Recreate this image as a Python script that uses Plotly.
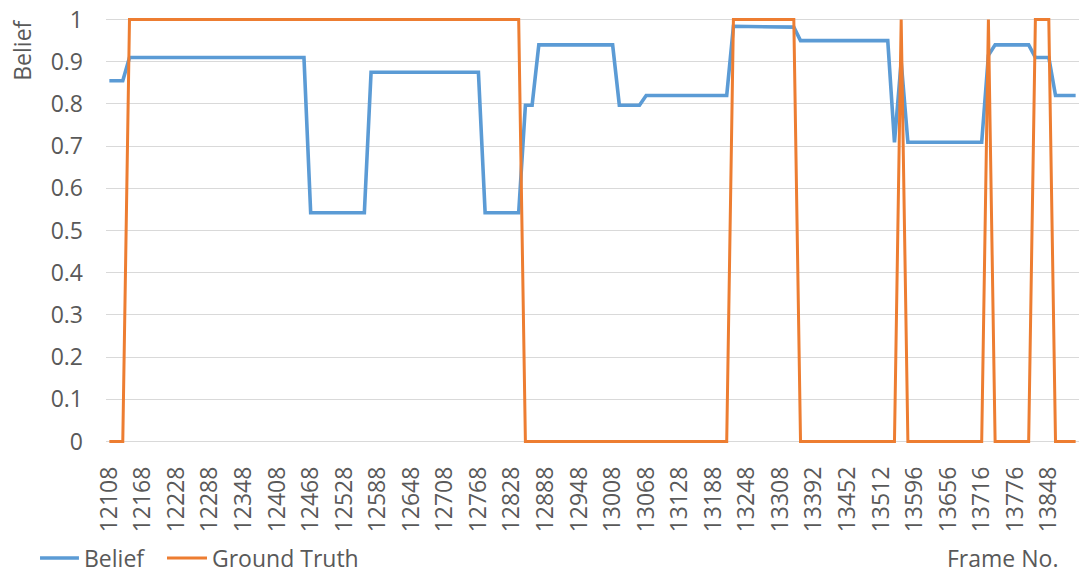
import plotly.graph_objects as go

# Frame numbers (one category per sampled frame)
frames = [
    12108, 12120, 12132, 12144, 12156, 12168, 12180, 12192, 12204, 12216,
    12228, 12240, 12252, 12264, 12276, 12288, 12300, 12312, 12324, 12336,
    12348, 12360, 12372, 12384, 12396, 12408, 12420, 12432, 12444, 12456,
    12468, 12480, 12492, 12504, 12516, 12528, 12540, 12552, 12564, 12576,
    12588, 12600, 12612, 12624, 12636, 12648, 12660, 12672, 12684, 12696,
    12708, 12720, 12732, 12744, 12756, 12768, 12780, 12792, 12804, 12816,
    12828, 12840, 12852, 12864, 12876, 12888, 12900, 12912, 12924, 12936,
    12948, 12960, 12972, 12984, 12996, 13008, 13020, 13032, 13044, 13056,
    13068, 13080, 13092, 13104, 13116, 13128, 13140, 13152, 13164, 13176,
    13188, 13200, 13212, 13224, 13236, 13248, 13260, 13272, 13284, 13296,
    13308, 13320, 13332, 13356, 13368, 13392, 13404, 13416, 13428, 13440,
    13452, 13464, 13476, 13488, 13500, 13512, 13524, 13536, 13560, 13572,
    13596, 13608, 13620, 13632, 13644, 13656, 13668, 13680, 13692, 13704,
    13716, 13728, 13740, 13752, 13764, 13776, 13788, 13800, 13812, 13836,
    13848, 13860, 13872, 13884, 13896,
]

belief = [
    0.855, 0.855, 0.855, 0.91, 0.91, 0.91, 0.91, 0.91, 0.91, 0.91,
    0.91, 0.91, 0.91, 0.91, 0.91, 0.91, 0.91, 0.91, 0.91, 0.91,
    0.91, 0.91, 0.91, 0.91, 0.91, 0.91, 0.91, 0.91, 0.91, 0.91,
    0.542, 0.542, 0.542, 0.542, 0.542, 0.542, 0.542, 0.542, 0.542, 0.875,
    0.875, 0.875, 0.875, 0.875, 0.875, 0.875, 0.875, 0.875, 0.875, 0.875,
    0.875, 0.875, 0.875, 0.875, 0.875, 0.875, 0.542, 0.542, 0.542, 0.542,
    0.542, 0.542, 0.797, 0.797, 0.94, 0.94, 0.94, 0.94, 0.94, 0.94,
    0.94, 0.94, 0.94, 0.94, 0.94, 0.94, 0.797, 0.797, 0.797, 0.797,
    0.82, 0.82, 0.82, 0.82, 0.82, 0.82, 0.82, 0.82, 0.82, 0.82,
    0.82, 0.82, 0.82, 0.984, 0.984, 0.984, 0.983, 0.983, 0.983, 0.983,
    0.982, 0.982, 0.982, 0.95, 0.95, 0.95, 0.95, 0.95, 0.95, 0.95,
    0.95, 0.95, 0.95, 0.95, 0.95, 0.95, 0.95, 0.709, 0.9, 0.709,
    0.709, 0.709, 0.709, 0.709, 0.709, 0.709, 0.709, 0.709, 0.709, 0.709,
    0.709, 0.915, 0.94, 0.94, 0.94, 0.94, 0.94, 0.94, 0.91, 0.91,
    0.91, 0.82, 0.82, 0.82, 0.82,
]

ground_truth = [
    0, 0, 0, 1, 1, 1, 1, 1, 1, 1,
    1, 1, 1, 1, 1, 1, 1, 1, 1, 1,
    1, 1, 1, 1, 1, 1, 1, 1, 1, 1,
    1, 1, 1, 1, 1, 1, 1, 1, 1, 1,
    1, 1, 1, 1, 1, 1, 1, 1, 1, 1,
    1, 1, 1, 1, 1, 1, 1, 1, 1, 1,
    1, 1, 0, 0, 0, 0, 0, 0, 0, 0,
    0, 0, 0, 0, 0, 0, 0, 0, 0, 0,
    0, 0, 0, 0, 0, 0, 0, 0, 0, 0,
    0, 0, 0, 1, 1, 1, 1, 1, 1, 1,
    1, 1, 1, 0, 0, 0, 0, 0, 0, 0,
    0, 0, 0, 0, 0, 0, 0, 0, 1, 0,
    0, 0, 0, 0, 0, 0, 0, 0, 0, 0,
    0, 1, 0, 0, 0, 0, 0, 0, 1, 1,
    1, 0, 0, 0, 0,
]

x_tick_labels = [
    "12108", "12168", "12228", "12288", "12348", "12408", "12468", "12528",
    "12588", "12648", "12708", "12768", "12828", "12888", "12948", "13008",
    "13068", "13128", "13188", "13248", "13308", "13392", "13452", "13512",
    "13596", "13656", "13716", "13776", "13848",
]
y_tick_values = [0, 0.1, 0.2, 0.3, 0.4, 0.5, 0.6, 0.7, 0.8, 0.9, 1]
y_tick_labels = ["0", "0.1", "0.2", "0.3", "0.4", "0.5", "0.6", "0.7", "0.8", "0.9", "1"]

categories = [str(f) for f in frames]

TEXT = "#595959"
GRID = "#d9d9d9"
FONT = "Open Sans"
SIZE = 23
BLUE = "#5B9BD5"
ORANGE = "#ED7D31"

fig = go.Figure()
fig.add_trace(go.Scatter(
    x=categories, y=belief, mode="lines", name="Belief",
    line=dict(color=BLUE, width=3.6),
))
fig.add_trace(go.Scatter(
    x=categories, y=ground_truth, mode="lines", name="Ground Truth",
    line=dict(color=ORANGE, width=3),
))

# Legend row under the axis: short line keys followed by their labels
LEG_Y = -0.2670
legend_keys = [
    dict(x0=-0.0678, x1=-0.0278, color=BLUE, width=3.6, label="Belief", tx=-0.0236),
    dict(x0=0.0627, x1=0.1038, color=ORANGE, width=3, label="Ground Truth", tx=0.1079),
]
shapes = []
legend_texts = []
for k in legend_keys:
    shapes.append(dict(
        type="line", xref="paper", yref="paper",
        x0=k["x0"], x1=k["x1"], y0=LEG_Y, y1=LEG_Y,
        line=dict(color=k["color"], width=k["width"]),
    ))
    legend_texts.append(dict(
        text=k["label"], xref="paper", yref="paper",
        x=k["tx"], y=LEG_Y, xanchor="left", yanchor="middle",
        showarrow=False, borderpad=0,
        font=dict(family=FONT, size=SIZE, color=TEXT),
    ))

fig.update_layout(
    width=1079, height=574,
    margin=dict(l=106, r=0, t=17, b=130),
    paper_bgcolor="white", plot_bgcolor="white",
    font=dict(family=FONT, size=SIZE, color=TEXT),
    showlegend=False,
    xaxis=dict(
        type="category",
        categoryorder="array", categoryarray=categories,
        range=[-0.5, len(categories) - 0.5],
        tickmode="array", tickvals=x_tick_labels, ticktext=x_tick_labels,
        tickangle=-90,
        showgrid=False, zeroline=False, showline=False,
        ticks="", ticklabelstandoff=17,
        tickfont=dict(family=FONT, size=SIZE, color=TEXT),
    ),
    yaxis=dict(
        range=[-0.006, 1.006],
        tickmode="array", tickvals=y_tick_values, ticktext=y_tick_labels,
        showgrid=True, gridcolor=GRID, gridwidth=1,
        zeroline=False, showline=False,
        ticks="", ticklabelstandoff=22,
        tickfont=dict(family=FONT, size=SIZE, color=TEXT),
    ),
    shapes=shapes,
    annotations=[
        dict(
            text="Belief", textangle=-90,
            xref="paper", yref="paper",
            x=-0.0866, y=0.9227, xanchor="center", yanchor="middle",
            showarrow=False, font=dict(family=FONT, size=SIZE, color=TEXT),
        ),
        dict(
            text="Frame No.",
            xref="paper", yref="paper",
            x=0.9794, y=LEG_Y, xanchor="right", yanchor="middle",
            showarrow=False, borderpad=0,
            font=dict(family=FONT, size=SIZE, color=TEXT),
        ),
    ] + legend_texts,
)

fig.write_html("out.html")
